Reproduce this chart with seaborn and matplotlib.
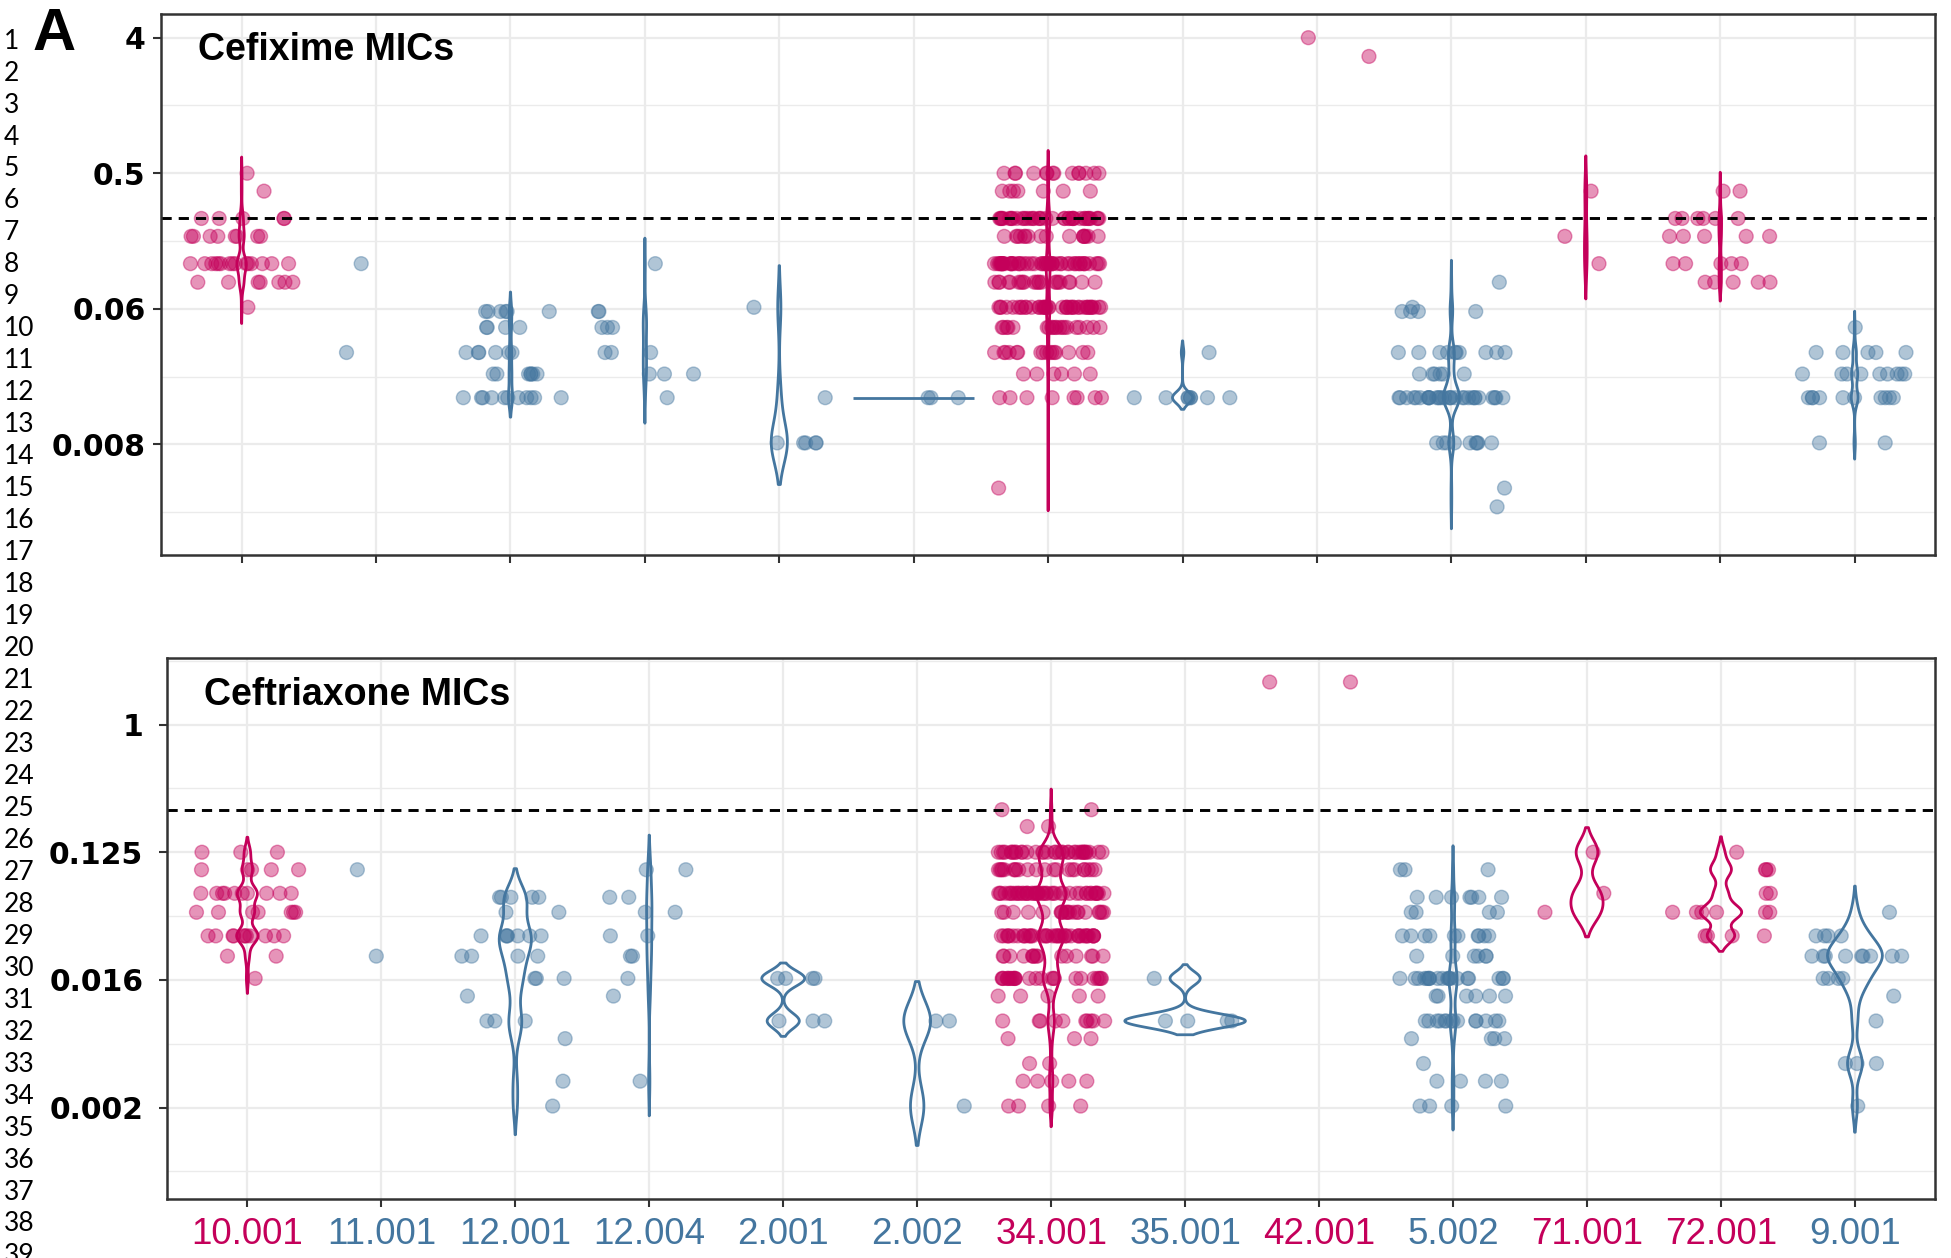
import numpy as np
import pandas as pd
import matplotlib
matplotlib.use("Agg")
import matplotlib.pyplot as plt
import seaborn as sns
from matplotlib.ticker import FixedLocator, NullFormatter

# ---------------- data ----------------
categories = ["10.001", "11.001", "12.001", "12.004", "2.001", "2.002", "34.001",
              "35.001", "42.001", "5.002", "71.001", "72.001", "9.001"]
pink_cats = ["10.001", "34.001", "42.001", "71.001", "72.001"]

# Cefixime MICs (value: number of isolates)
cfx_10_001 = {0.5: 1, 0.38: 1, 0.25: 5, 0.19: 8, 0.125: 15, 0.094: 7, 0.064: 1}
cfx_11_001 = {0.125: 1, 0.032: 1}
cfx_12_001 = {0.06: 6, 0.047: 4, 0.032: 6, 0.023: 7, 0.016: 11}
cfx_12_004 = {0.125: 1, 0.06: 2, 0.047: 3, 0.032: 3, 0.023: 3, 0.016: 1}
cfx_2_001 = {0.064: 1, 0.016: 1, 0.008: 5}
cfx_2_002 = {0.016: 3}
cfx_34_001 = {0.5: 14, 0.38: 7, 0.25: 40, 0.19: 16, 0.125: 50, 0.094: 22, 0.064: 40,
              0.047: 20, 0.032: 16, 0.023: 6, 0.016: 8, 0.004: 1}
cfx_35_001 = {0.032: 1, 0.016: 8}
cfx_42_001 = {4: 1, 3: 1}
cfx_5_002 = {0.094: 1, 0.064: 1, 0.06: 4, 0.032: 10, 0.023: 6, 0.016: 30, 0.008: 9,
             0.004: 1, 0.003: 1}
cfx_71_001 = {0.38: 1, 0.19: 1, 0.125: 1}
cfx_72_001 = {0.38: 2, 0.25: 6, 0.19: 5, 0.125: 5, 0.094: 5}
cfx_9_001 = {0.047: 1, 0.032: 5, 0.023: 9, 0.016: 10, 0.008: 2}

# Ceftriaxone MICs
cro_10_001 = {0.125: 3, 0.094: 5, 0.064: 10, 0.047: 7, 0.032: 11, 0.023: 2, 0.016: 1}
cro_11_001 = {0.094: 1, 0.023: 1}
cro_12_001 = {0.06: 5, 0.047: 2, 0.032: 7, 0.023: 4, 0.016: 3, 0.012: 1, 0.008: 3,
              0.006: 1, 0.003: 1, 0.002: 1}
cro_12_004 = {0.094: 2, 0.06: 2, 0.047: 2, 0.032: 2, 0.023: 2, 0.016: 1, 0.012: 1, 0.003: 1}
cro_2_001 = {0.016: 4, 0.008: 3}
cro_2_002 = {0.008: 2, 0.002: 1}
cro_34_001 = {0.25: 2, 0.19: 2, 0.125: 35, 0.094: 22, 0.064: 45, 0.047: 20, 0.032: 40,
              0.023: 15, 0.016: 25, 0.012: 5, 0.008: 10, 0.006: 3, 0.004: 2, 0.003: 5,
              0.002: 4}
cro_35_001 = {0.016: 1, 0.008: 4}
cro_42_001 = {2: 2}
cro_5_002 = {0.094: 3, 0.06: 7, 0.047: 4, 0.032: 10, 0.023: 6, 0.016: 20, 0.012: 6,
             0.008: 14, 0.006: 4, 0.004: 1, 0.003: 4, 0.002: 4}
cro_71_001 = {0.125: 1, 0.064: 1, 0.047: 1}
cro_72_001 = {0.125: 1, 0.094: 3, 0.064: 2, 0.047: 6, 0.032: 4}
cro_9_001 = {0.047: 1, 0.032: 4, 0.023: 9, 0.016: 4, 0.012: 1, 0.008: 1, 0.004: 3, 0.002: 1}

cfx_panel = [cfx_10_001, cfx_11_001, cfx_12_001, cfx_12_004, cfx_2_001, cfx_2_002,
             cfx_34_001, cfx_35_001, cfx_42_001, cfx_5_002, cfx_71_001, cfx_72_001, cfx_9_001]
cro_panel = [cro_10_001, cro_11_001, cro_12_001, cro_12_004, cro_2_001, cro_2_002,
             cro_34_001, cro_35_001, cro_42_001, cro_5_002, cro_71_001, cro_72_001, cro_9_001]

cfx_breakpoint = 0.25
cro_breakpoint = 0.25
cfx_ticks = [4, 0.5, 0.0625, 0.0078125]
cfx_ticklabels = ["4", "0.5", "0.06", "0.008"]
cro_ticks = [1, 0.125, 0.015625, 0.001953125]
cro_ticklabels = ["1", "0.125", "0.016", "0.002"]

# ---------------- style ----------------
PINK = "#C4005A"
BLUE = "#44769F"
palette = {"pink": PINK, "blue": BLUE}
# drawn violin widths (category units), style only
cfx_vwidth = {"10.001": 0.07, "12.001": 0.03, "12.004": 0.025, "2.001": 0.12,
              "34.001": 0.03, "35.001": 0.15, "5.002": 0.12, "71.001": 0.02,
              "72.001": 0.02, "9.001": 0.05}
cro_vwidth = {"10.001": 0.16, "12.001": 0.24, "12.004": 0.04, "2.001": 0.32,
              "2.002": 0.2, "34.001": 0.22, "35.001": 0.9, "5.002": 0.06,
              "71.001": 0.24, "72.001": 0.31, "9.001": 0.41}


def expand(panel):
    rows = []
    for cat, d in zip(categories, panel):
        for v, n in d.items():
            rows += [(cat, float(v))] * n
    df = pd.DataFrame(rows, columns=["ST", "MIC"])
    df["group"] = np.where(df["ST"].isin(pink_cats), "pink", "blue")
    return df


cfx_df = expand(cfx_panel)
cro_df = expand(cro_panel)

# ---------------- figure ----------------
W, H = 1951, 1258
fig = plt.figure(figsize=(W / 100, H / 100), dpi=100)
plt.rcParams["font.family"] = ["Liberation Sans", "DejaVu Sans"]


def px_axes(left, top, right, bottom):
    return fig.add_axes([left / W, 1 - bottom / H, (right - left) / W, (bottom - top) / H])


ax1 = px_axes(161, 14, 1935.3, 554.7)
ax2 = px_axes(167, 658.3, 1935.3, 1199)


def draw(ax, df, ylim, ticks, ticklabels, title, breakpoint, vwidth, bwadj, show_x, ypad, seed):
    np.random.seed(seed)
    sns.stripplot(data=df, x="ST", y="MIC", hue="group", order=categories,
                  hue_order=["pink", "blue"], palette=palette, jitter=0.4, size=10,
                  alpha=0.42, linewidth=1.0, edgecolor="face", dodge=False,
                  legend=False, log_scale=2, ax=ax, zorder=2)
    stats = df.groupby("ST")["MIC"].agg(["count", "nunique"])
    for st in categories:
        if st not in stats.index or stats.loc[st, "count"] < 3:
            continue
        sub = df[df["ST"] == st]
        col = PINK if st in pink_cats else BLUE
        if stats.loc[st, "nunique"] > 1:
            sns.violinplot(data=sub, x="ST", y="MIC", order=categories, color=col,
                           fill=False, inner=None, density_norm="width",
                           width=vwidth.get(st, 0.05), bw_adjust=bwadj, linewidth=2.0,
                           log_scale=2, ax=ax, zorder=3)
        else:
            i = categories.index(st)
            v = sub["MIC"].iloc[0]
            ax.plot([i - 0.45, i + 0.45], [v, v], color=col, lw=2.0, zorder=3,
                    solid_capstyle="butt")

    ax.axhline(breakpoint, color="black", lw=2.1, ls=(0, (3.5, 2.4)), zorder=2.5)

    ax.set_yscale("log", base=2)
    ax.set_ylim(*ylim)
    ax.set_xlim(-0.6, len(categories) - 0.4)
    ax.set_yticks(ticks)
    ax.set_yticklabels(ticklabels, fontsize=21.5, fontweight="bold", family="DejaVu Sans")
    majors = np.log2(ticks)
    minors = [2 ** (m + 1.5) for m in majors] + [2 ** (majors[-1] - 1.5)]
    minors = [m for m in minors if ylim[0] < m < ylim[1]]
    ax.yaxis.set_minor_locator(FixedLocator(minors))
    ax.yaxis.set_minor_formatter(NullFormatter())

    ax.set_axisbelow(True)
    ax.grid(True, which="major", axis="both", color="#EBEBEB", lw=1.6, zorder=0)
    ax.grid(True, which="minor", axis="y", color="#EBEBEB", lw=1.0, zorder=0)

    for s in ax.spines.values():
        s.set_color("#333333")
        s.set_linewidth(1.8)
        s.set_zorder(5)
    ax.tick_params(axis="both", which="major", direction="out", length=5.8, width=1.5,
                   color="#333333")
    ax.tick_params(axis="y", which="minor", length=0)
    ax.tick_params(axis="y", pad=ypad, labelcolor="black")
    ax.set_xlabel("")
    ax.set_ylabel("")
    ax.set_xticks(range(len(categories)))
    if show_x:
        ax.set_xticklabels(categories, fontsize=26.5)
        ax.tick_params(axis="x", pad=7.5)
        for lab, cat in zip(ax.get_xticklabels(), categories):
            lab.set_color(PINK if cat in pink_cats else BLUE)
    else:
        ax.tick_params(axis="x", labelbottom=False)

    ax.text(0.021, 0.933, title, transform=ax.transAxes, fontsize=27,
            fontweight="bold", va="center", ha="left", zorder=6)


draw(ax1, cfx_df, (2 ** -9.44, 2 ** 2.524), cfx_ticks, cfx_ticklabels, "Cefixime MICs",
     cfx_breakpoint, cfx_vwidth, 0.6, False, 5.3, 3)
draw(ax2, cro_df, (2 ** -11.15, 2 ** 1.558), cro_ticks, cro_ticklabels, "Ceftriaxone MICs",
     cro_breakpoint, cro_vwidth, 0.5, True, 11.3, 7)

# panel letter
fig.text(33 / W, 1 - 50 / H, "A", fontsize=43, fontweight="bold", va="baseline", ha="left")

# manuscript line numbers
for k in range(1, 40):
    base = 48.6 + (k - 1) * 31.97
    fig.text(3.5 / W, 1 - base / H, str(k), fontsize=19, family=["Lato", "DejaVu Sans"],
             va="baseline", ha="left", color="black")

fig.savefig("out.png", dpi=100)
